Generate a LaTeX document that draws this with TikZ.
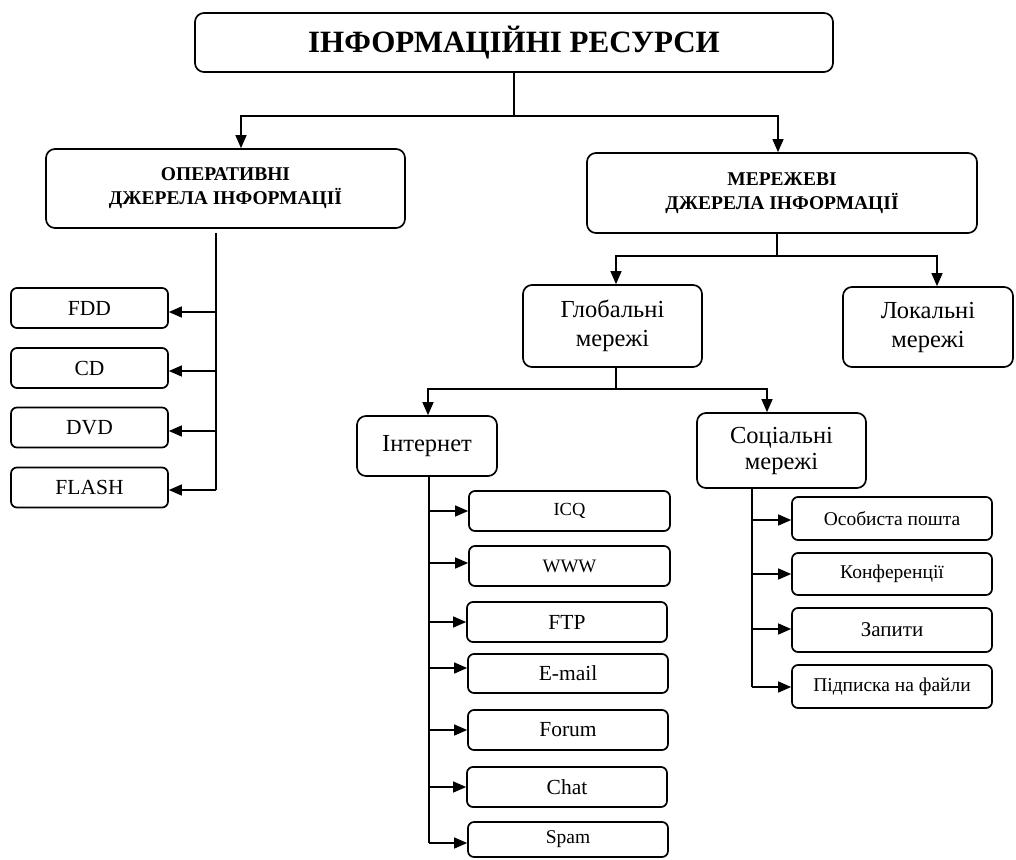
\documentclass[tikz,border=0pt]{standalone}
\usepackage{fontspec}
\setmainfont{Liberation Serif}
\usetikzlibrary{arrows.meta,calc}
\tikzset{
  box/.style={draw, line width=1.7pt, rounded corners=6pt, inner sep=0pt, align=center, rectangle},
  bigbox/.style={box, rounded corners=9pt},
  conn/.style={line width=1.3pt},
  arr/.style={conn, -{Triangle[length=13pt,width=11pt]}},
}
\begin{document}
\begin{tikzpicture}[x=1pt,y=-1pt]
\useasboundingbox (0,0) rectangle (1016,859);
% boxes
\node[bigbox, minimum width=638pt, minimum height=59pt, font=\fontsize{31}{34}\selectfont\bfseries] (top) at (514,42.5)
  {ІНФОРМАЦІЙНІ РЕСУРСИ};
\node[bigbox, minimum width=359pt, minimum height=79pt, font=\fontsize{19.5}{24}\selectfont\bfseries] (oper) at (225.5,188.5)
  {ОПЕРАТИВНІ\\ДЖЕРЕЛА ІНФОРМАЦІЇ};
\node[bigbox, minimum width=390pt, minimum height=80pt, font=\fontsize{19.5}{24}\selectfont\bfseries] (mer) at (782,193)
  {МЕРЕЖЕВІ\\ДЖЕРЕЛА ІНФОРМАЦІЇ};
\node[bigbox, minimum width=179pt, minimum height=82pt, font=\fontsize{24.5}{29}\selectfont] (glob) at (612.5,326)
  {Глобальні\\мережі};
\node[bigbox, minimum width=170pt, minimum height=80pt, font=\fontsize{24.5}{29}\selectfont] (lok) at (928,327)
  {Локальні\\мережі};
% left column
\node[box, minimum width=157pt, minimum height=40pt, font=\fontsize{21.5}{24}\selectfont] (fdd) at (89.5,308) {FDD};
\node[box, minimum width=157pt, minimum height=40pt, font=\fontsize{21.5}{24}\selectfont] (cd) at (89.5,368) {CD};
\node[box, minimum width=157pt, minimum height=40pt, font=\fontsize{21.5}{24}\selectfont] (dvd) at (89.5,427.5) {DVD};
\node[box, minimum width=157pt, minimum height=40pt, font=\fontsize{21.5}{24}\selectfont] (flash) at (89.5,487.5) {FLASH};
% internet
\node[bigbox, minimum width=140pt, minimum height=60pt, font=\fontsize{24.5}{28}\selectfont] (inet) at (427,446)
  {Інтернет};
\node[bigbox, minimum width=169pt, minimum height=75pt, font=\fontsize{24.5}{26}\selectfont] (soc) at (781.5,450.5)
  {Соціальні\\мережі};
\node[box, minimum width=201pt, minimum height=40pt, font=\fontsize{18.5}{20}\selectfont] (icq) at (569.5,511) {ICQ};
\node[box, minimum width=201pt, minimum height=40pt, font=\fontsize{19}{20}\selectfont] (www) at (569.5,566) {WWW};
\node[box, minimum width=200pt, minimum height=40pt, font=\fontsize{21.5}{24}\selectfont] (ftp) at (567,622) {FTP};
\node[box, minimum width=200pt, minimum height=39pt, font=\fontsize{21.5}{24}\selectfont] (email) at (568,673.5) {E-mail};
\node[box, minimum width=200pt, minimum height=40pt, font=\fontsize{21.5}{24}\selectfont] (forum) at (568,730) {Forum};
\node[box, minimum width=200pt, minimum height=40pt, font=\fontsize{21.5}{24}\selectfont] (chat) at (567,787) {Chat};
\node[box, minimum width=200pt, minimum height=35pt, font=\fontsize{19.5}{22}\selectfont] (spam) at (568,839.5) {Spam};
% social
\node[box, minimum width=200pt, minimum height=43pt, font=\fontsize{19.5}{22}\selectfont] (osob) at (892,518.5) {Особиста пошта};
\node[box, minimum width=200pt, minimum height=42pt, font=\fontsize{19.5}{22}\selectfont] (konf) at (892,574) {Конференції};
\node[box, minimum width=200pt, minimum height=44pt, font=\fontsize{21}{24}\selectfont] (zap) at (892,630) {Запити};
\node[box, minimum width=200pt, minimum height=43pt, font=\fontsize{19.5}{22}\selectfont] (pidp) at (892,686.5) {Підписка на файли};
% connectors: top
\coordinate (j1) at (514,116);
\draw[conn] (top.south) -- (j1);
\draw[arr] (j1) -| ([xshift=15.5pt]oper.north);
\draw[arr] (j1) -| ([xshift=-4pt]mer.north);
% operative spine
\coordinate (os1) at (216,233);
\coordinate (os2) at (216,490);
\draw[conn] (os1) -- (os2);
\coordinate (o1) at (216,312);
\coordinate (o2) at (216,371);
\coordinate (o3) at (216,431);
\draw[arr] (o1) -- (o1 -| fdd.east);
\draw[arr] (o2) -- (o2 -| cd.east);
\draw[arr] (o3) -- (o3 -| dvd.east);
\draw[arr] (os2) -- (os2 -| flash.east);
% network
\coordinate (j2) at (777,256);
\draw[conn] ([xshift=-5pt]mer.south) -- (j2);
\draw[arr] (j2) -| ([xshift=3.5pt]glob.north);
\draw[arr] (j2) -| ([xshift=9pt]lok.north);
\coordinate (j3) at (616,389);
\draw[conn] ([xshift=3.5pt]glob.south) -- (j3);
\draw[arr] (j3) -| ([xshift=1pt]inet.north);
\draw[arr] (j3) -| ([xshift=-14.5pt]soc.north);
% internet spine
\coordinate (is1) at (429,476);
\coordinate (is2) at (429,843);
\draw[conn] (is1) -- (is2);
\coordinate (i1) at (429,511);
\coordinate (i2) at (429,563);
\coordinate (i3) at (429,622);
\coordinate (i4) at (429,668);
\coordinate (i5) at (429,730);
\coordinate (i6) at (429,787);
\draw[arr] (i1) -- (i1 -| icq.west);
\draw[arr] (i2) -- (i2 -| www.west);
\draw[arr] (i3) -- (i3 -| ftp.west);
\draw[arr] (i4) -- (i4 -| email.west);
\draw[arr] (i5) -- (i5 -| forum.west);
\draw[arr] (i6) -- (i6 -| chat.west);
\draw[arr] (is2) -- (is2 -| spam.west);
% social spine
\coordinate (ss1) at (752,488);
\coordinate (ss2) at (752,687);
\draw[conn] (ss1) -- (ss2);
\coordinate (s1) at (752,520);
\coordinate (s2) at (752,574);
\coordinate (s3) at (752,629);
\draw[arr] (s1) -- (s1 -| osob.west);
\draw[arr] (s2) -- (s2 -| konf.west);
\draw[arr] (s3) -- (s3 -| zap.west);
\draw[arr] (ss2) -- (ss2 -| pidp.west);
\end{tikzpicture}
\end{document}
